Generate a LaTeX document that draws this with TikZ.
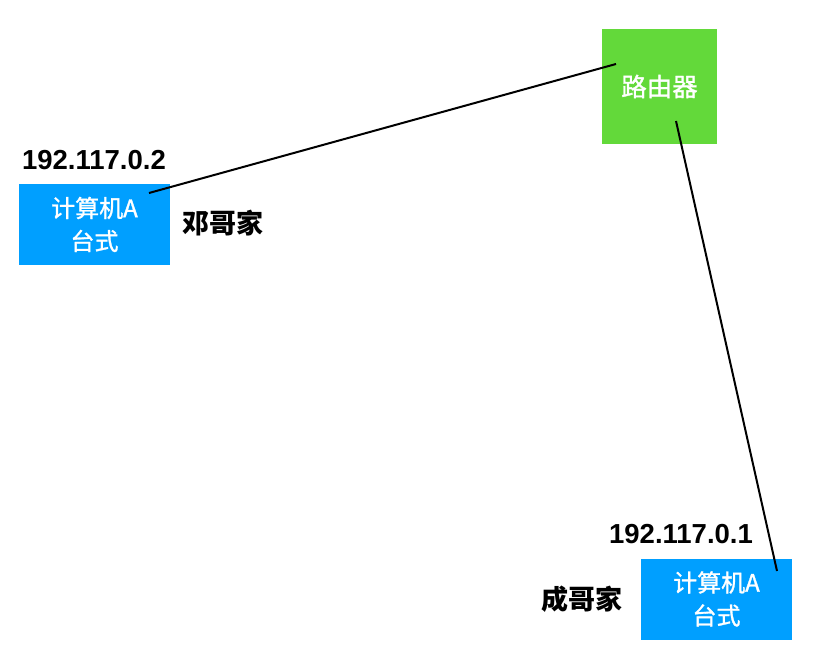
\documentclass[tikz,border=0pt]{standalone}
\usepackage{fontspec}
\setmainfont{Liberation Sans}
\newfontfamily\cjk{Noto Sans CJK SC}
\newfontfamily\cjkmed[FakeBold=1.2]{Noto Sans CJK SC}
\definecolor{pcblue}{HTML}{009FFF}
\definecolor{routergreen}{HTML}{63D93A}
\begin{document}
\begin{tikzpicture}[x=1pt,y=-1pt,
  pcbox/.style={fill=pcblue,draw=none,inner sep=0pt,minimum width=151pt,minimum height=81pt,
    align=center,text=white,font=\cjkmed\fontsize{24}{33}\selectfont},
  routerbox/.style={fill=routergreen,draw=none,inner sep=0pt,minimum width=115pt,minimum height=115pt,
    text=white,font=\cjkmed\fontsize{25.5}{28}\selectfont},
  iplabel/.style={font=\bfseries\fontsize{27.5}{30}\selectfont,inner sep=0pt},
  homelabel/.style={font=\cjk\bfseries\fontsize{27}{30}\selectfont,inner sep=0pt},
  link/.style={draw=black,line width=2pt}]
\useasboundingbox (0,0) rectangle (834,658);
\node[routerbox] (router) at (659.5,86.5) {路由器};
\node[pcbox] (pcA) at (94.5,224.5) {计算机A\\台式};
\node[pcbox] (pcB) at (716.5,599) {计算机A\\台式};
\node[iplabel] (ipA) at (94,160) {192.117.0.2};
\node[iplabel] (ipB) at (681,534) {192.117.0.1};
\node[homelabel] (homeA) at (223,223) {邓哥家};
\node[homelabel] (homeB) at (582,599) {成哥家};
\coordinate (a1) at (149,193);
\coordinate (r1) at (616,64);
\coordinate (r2) at (676,121);
\coordinate (b1) at (777,571);
\draw[link] (a1) -- (r1);
\draw[link] (r2) -- (b1);
\end{tikzpicture}
\end{document}
